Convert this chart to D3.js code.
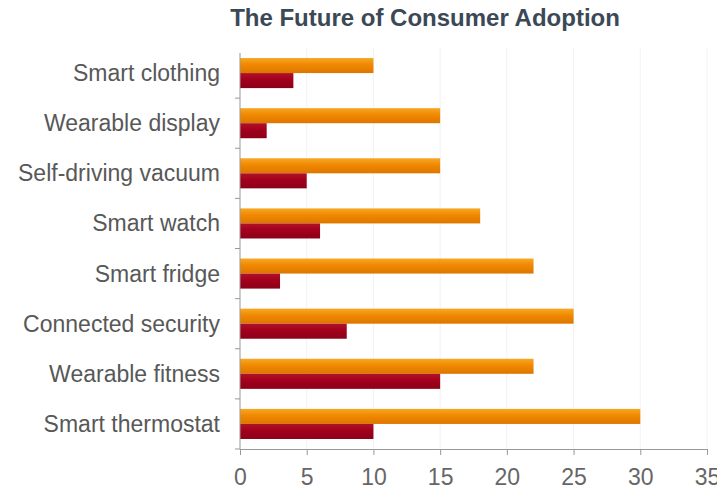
<!DOCTYPE html>
<html>
<head>
<meta charset="utf-8">
<script src="https://cdn.jsdelivr.net/npm/d3@7"></script>
<style>
  html, body { margin: 0; padding: 0; background: #fff; }
  svg { display: block; }
</style>
</head>
<body>
<svg id="chart" width="717" height="489"></svg>
<script>
// Adoption figures per device category
const categories = [
  "Smart clothing", "Wearable display", "Self-driving vacuum", "Smart watch",
  "Smart fridge", "Connected security", "Wearable fitness", "Smart thermostat"
];
const futureValues  = [10, 15, 15, 18, 22, 25, 22, 30];   // orange bars
const currentValues = [4, 2, 5, 6, 3, 8, 15, 10];          // dark red bars
const xTicks = [0, 5, 10, 15, 20, 25, 30, 35];

const svg = d3.select("#chart");
const margin = { top: 48, right: 10, bottom: 40, left: 240 };
const width = 707 - margin.left;
const height = 449 - margin.top;
const font = "Liberation Sans, Arial, Helvetica, sans-serif";

// gradients give the bars a soft shaded look
const defs = svg.append("defs");
function grad(id, top, mid, bottom) {
  const g = defs.append("linearGradient").attr("id", id)
    .attr("x1", 0).attr("y1", 0).attr("x2", 0).attr("y2", 1);
  g.append("stop").attr("offset", "0%").attr("stop-color", top);
  g.append("stop").attr("offset", "45%").attr("stop-color", mid);
  g.append("stop").attr("offset", "100%").attr("stop-color", bottom);
}
grad("gOrange", "#f7a824", "#f08800", "#de7600");
grad("gRed", "#b0122a", "#a2001c", "#8c0018");

const g = svg.append("g").attr("transform", `translate(${margin.left},${margin.top})`);

const x = d3.scaleLinear().domain([0, 35]).range([0, width]);
const y = d3.scaleBand().domain(categories).range([0, height])
  .paddingInner(0.4).paddingOuter(0.2);
const sub = d3.scaleBand().domain(["future", "current"]).range([0, y.bandwidth()]);

// faint vertical grid
g.append("g").selectAll("line").data(xTicks.slice(1)).join("line")
  .attr("x1", d => x(d)).attr("x2", d => x(d))
  .attr("y1", 0).attr("y2", height)
  .attr("stroke", "#f2f2f2").attr("stroke-width", 1);

// bars
const rows = categories.map((c, i) => ({ c, future: futureValues[i], current: currentValues[i] }));
const rowG = g.append("g").selectAll("g").data(rows).join("g")
  .attr("transform", d => `translate(0,${y(d.c)})`);
rowG.append("rect")
  .attr("x", 0).attr("y", sub("future"))
  .attr("width", d => x(d.future)).attr("height", sub.bandwidth())
  .attr("fill", "url(#gOrange)");
rowG.append("rect")
  .attr("x", 0).attr("y", sub("current"))
  .attr("width", d => x(d.current)).attr("height", sub.bandwidth())
  .attr("fill", "url(#gRed)");

// x axis
const xAxis = g.append("g").attr("transform", `translate(0,${height})`)
  .call(d3.axisBottom(x).tickValues(xTicks).tickSize(6).tickPadding(14));
xAxis.select(".domain").attr("stroke", "#999");
xAxis.selectAll(".tick line").attr("stroke", "#999");
xAxis.selectAll("text")
  .attr("fill", "#666").attr("font-size", 23)
  .attr("font-family", font);

// y axis: ticks at category boundaries
const boundaries = categories.map(c => y(c) - y.step() * y.paddingInner() / 2).concat([height]);
g.append("line").attr("x1", 0).attr("x2", 0).attr("y1", 5).attr("y2", height)
  .attr("stroke", "#999");
g.append("g").selectAll("line").data(boundaries.slice(1)).join("line")
  .attr("x1", -5).attr("x2", 0).attr("y1", d => d).attr("y2", d => d)
  .attr("stroke", "#999");

// category labels
g.append("g").selectAll("text").data(categories).join("text")
  .attr("x", -20).attr("y", d => y(d) + y.bandwidth() / 2)
  .attr("dy", "0.35em").attr("text-anchor", "end")
  .attr("fill", "#585858").attr("font-size", 23)
  .attr("font-family", font)
  .text(d => d);

// title
svg.append("text")
  .attr("x", 425).attr("y", 26).attr("text-anchor", "middle")
  .attr("fill", "#3b4856").attr("font-size", 24).attr("font-weight", "bold")
  .attr("font-family", font)
  .text("The Future of Consumer Adoption");
</script>
</body>
</html>
